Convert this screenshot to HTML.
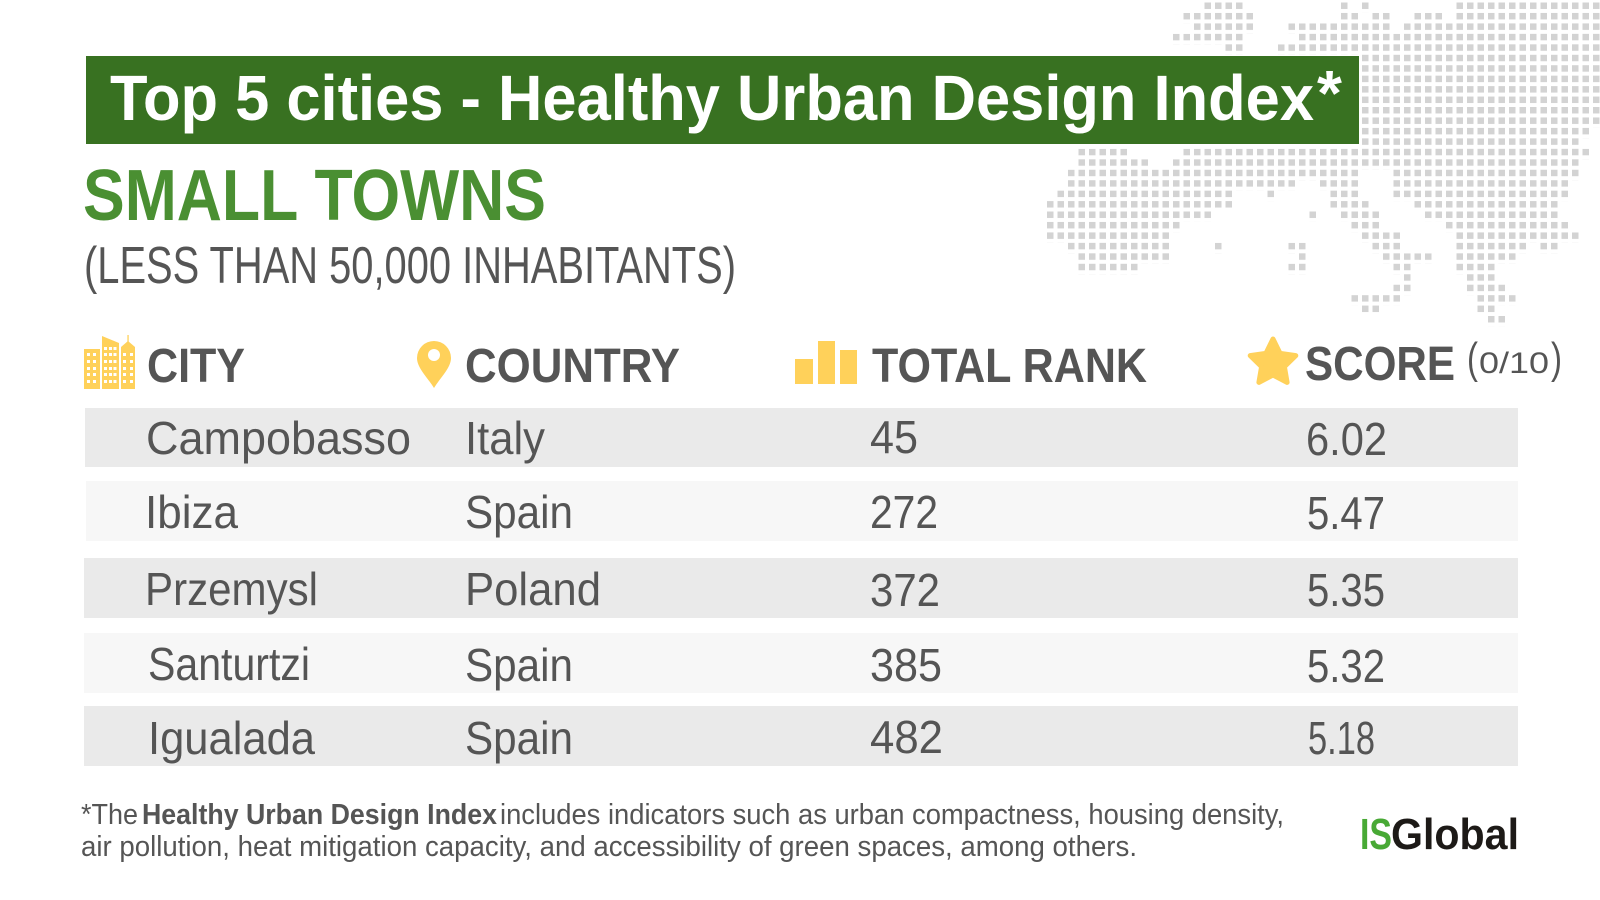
<!DOCTYPE html>
<html>
<head>
<meta charset="utf-8">
<style>
html,body{margin:0;padding:0;background:#fff;}
svg{display:block;}
text{font-family:"Liberation Sans",Arial,sans-serif;}
</style>
</head>
<body>
<svg width="1600" height="900" viewBox="0 0 1600 900" xmlns="http://www.w3.org/2000/svg">
<defs>
<pattern id="d" patternUnits="userSpaceOnUse" x="1005" y="2.5" width="10.5" height="10.45">
<rect x="0" y="0" width="6.5" height="6.5" fill="#d3d3d3"/>
</pattern>
</defs>
<rect width="1600" height="900" fill="#fff"/>

<!-- dotted map -->
<g fill="url(#d)">
<rect x="1204.5" y="2.5" width="42" height="10.45"/>
<rect x="1341" y="2.5" width="10.5" height="10.45"/>
<rect x="1362" y="2.5" width="10.5" height="10.45"/>
<rect x="1456.5" y="2.5" width="147" height="10.45"/>
<rect x="1183.5" y="12.95" width="73.5" height="10.45"/>
<rect x="1341" y="12.95" width="21" height="10.45"/>
<rect x="1372.5" y="12.95" width="21" height="10.45"/>
<rect x="1414.5" y="12.95" width="31.5" height="10.45"/>
<rect x="1456.5" y="12.95" width="147" height="10.45"/>
<rect x="1194" y="23.4" width="63" height="10.45"/>
<rect x="1288.5" y="23.4" width="105" height="10.45"/>
<rect x="1404" y="23.4" width="199.5" height="10.45"/>
<rect x="1173" y="33.85" width="73.5" height="10.45"/>
<rect x="1299" y="33.85" width="304.5" height="10.45"/>
<rect x="1225.5" y="44.3" width="21" height="10.45"/>
<rect x="1278" y="44.3" width="325.5" height="10.45"/>
<rect x="1362" y="54.75" width="241.5" height="73.15"/>
<rect x="1362" y="127.9" width="231" height="10.45"/>
<rect x="1362" y="138.35" width="220.5" height="10.45"/>
<rect x="1078.5" y="148.8" width="52.5" height="10.45"/>
<rect x="1183.5" y="148.8" width="409.5" height="10.45"/>
<rect x="1078.5" y="159.25" width="73.5" height="10.45"/>
<rect x="1173" y="159.25" width="409.5" height="10.45"/>
<rect x="1068" y="169.7" width="294" height="10.45"/>
<rect x="1393.5" y="169.7" width="189" height="10.45"/>
<rect x="1068" y="180.15" width="231" height="10.45"/>
<rect x="1320" y="180.15" width="42" height="10.45"/>
<rect x="1393.5" y="180.15" width="178.5" height="10.45"/>
<rect x="1057.5" y="190.6" width="178.5" height="10.45"/>
<rect x="1267.5" y="190.6" width="10.5" height="10.45"/>
<rect x="1330.5" y="190.6" width="31.5" height="10.45"/>
<rect x="1393.5" y="190.6" width="178.5" height="10.45"/>
<rect x="1047" y="201.05" width="189" height="10.45"/>
<rect x="1330.5" y="201.05" width="42" height="10.45"/>
<rect x="1414.5" y="201.05" width="147" height="10.45"/>
<rect x="1047" y="211.5" width="168" height="10.45"/>
<rect x="1309.5" y="211.5" width="10.5" height="10.45"/>
<rect x="1341" y="211.5" width="42" height="10.45"/>
<rect x="1425" y="211.5" width="136.5" height="10.45"/>
<rect x="1047" y="221.95" width="136.5" height="10.45"/>
<rect x="1351.5" y="221.95" width="31.5" height="10.45"/>
<rect x="1446" y="221.95" width="126" height="10.45"/>
<rect x="1047" y="232.4" width="126" height="10.45"/>
<rect x="1362" y="232.4" width="42" height="10.45"/>
<rect x="1456.5" y="232.4" width="126" height="10.45"/>
<rect x="1068" y="242.85" width="105" height="10.45"/>
<rect x="1215" y="242.85" width="10.5" height="10.45"/>
<rect x="1288.5" y="242.85" width="21" height="10.45"/>
<rect x="1372.5" y="242.85" width="31.5" height="10.45"/>
<rect x="1456.5" y="242.85" width="73.5" height="10.45"/>
<rect x="1540.5" y="242.85" width="21" height="10.45"/>
<rect x="1078.5" y="253.3" width="94.5" height="10.45"/>
<rect x="1299" y="253.3" width="10.5" height="10.45"/>
<rect x="1383" y="253.3" width="52.5" height="10.45"/>
<rect x="1456.5" y="253.3" width="63" height="10.45"/>
<rect x="1078.5" y="263.75" width="63" height="10.45"/>
<rect x="1288.5" y="263.75" width="21" height="10.45"/>
<rect x="1393.5" y="263.75" width="21" height="10.45"/>
<rect x="1456.5" y="263.75" width="42" height="10.45"/>
<rect x="1404" y="274.2" width="10.5" height="10.45"/>
<rect x="1467" y="274.2" width="31.5" height="10.45"/>
<rect x="1393.5" y="284.65" width="21" height="10.45"/>
<rect x="1467" y="284.65" width="42" height="10.45"/>
<rect x="1351.5" y="295.1" width="52.5" height="10.45"/>
<rect x="1477.5" y="295.1" width="42" height="10.45"/>
<rect x="1362" y="305.55" width="21" height="10.45"/>
<rect x="1477.5" y="305.55" width="21" height="10.45"/>
<rect x="1488" y="316" width="21" height="10.45"/>
</g>

<!-- title banner -->
<rect x="86" y="56" width="1273" height="88" fill="#387121"/>
<text x="110" y="120" font-size="64" font-weight="bold" fill="#ffffff" textLength="1204" lengthAdjust="spacingAndGlyphs">Top 5 cities - Healthy Urban Design Index</text>
<text x="1317" y="115" font-size="64" font-weight="bold" fill="#ffffff">*</text>

<!-- subtitle -->
<text x="83" y="220" font-size="72" font-weight="bold" fill="#4a8f32" textLength="463" lengthAdjust="spacingAndGlyphs">SMALL TOWNS</text>
<text x="84" y="283" font-size="52" fill="#555555" textLength="652" lengthAdjust="spacingAndGlyphs">(LESS THAN 50,000 INHABITANTS)</text>

<!-- header icons -->
<g fill="#ffd15a">
  <rect x="84" y="349" width="16" height="40"/>
  <polygon points="102,336 119,343 119,389 102,389"/>
  <polygon points="121,347 128,341 135,347 135,389 121,389"/>
  <rect x="127.4" y="335" width="1.3" height="7"/>
</g>
<g fill="#ffffff">
  <rect x="87" y="353" width="3" height="3"/><rect x="93" y="353" width="3" height="3"/>
  <rect x="87" y="360" width="3" height="3"/><rect x="93" y="360" width="3" height="3"/>
  <rect x="87" y="367" width="3" height="3"/><rect x="93" y="367" width="3" height="3"/>
  <rect x="87" y="373" width="3" height="3"/><rect x="93" y="373" width="3" height="3"/>
  <rect x="87" y="380" width="3" height="3"/><rect x="93" y="380" width="3" height="3"/>
  <rect x="104" y="347" width="3" height="3"/><rect x="109" y="347" width="3" height="3"/><rect x="113.5" y="347" width="3" height="3"/>
  <rect x="104" y="353" width="3" height="3"/><rect x="109" y="353" width="3" height="3"/><rect x="113.5" y="353" width="3" height="3"/>
  <rect x="104" y="360" width="3" height="3"/><rect x="109" y="360" width="3" height="3"/><rect x="113.5" y="360" width="3" height="3"/>
  <rect x="104" y="367" width="3" height="3"/><rect x="109" y="367" width="3" height="3"/><rect x="113.5" y="367" width="3" height="3"/>
  <rect x="104" y="373" width="3" height="3"/><rect x="109" y="373" width="3" height="3"/><rect x="113.5" y="373" width="3" height="3"/>
  <rect x="104" y="380" width="3" height="3"/><rect x="109" y="380" width="3" height="3"/><rect x="113.5" y="380" width="3" height="3"/>
  <rect x="123" y="353" width="3" height="3"/><rect x="130" y="353" width="3" height="3"/>
  <rect x="123" y="360" width="3" height="3"/><rect x="130" y="360" width="3" height="3"/>
  <rect x="123" y="367" width="3" height="3"/><rect x="130" y="367" width="3" height="3"/>
  <rect x="123" y="373" width="3" height="3"/><rect x="130" y="373" width="3" height="3"/>
  <rect x="123" y="380" width="3" height="3"/><rect x="130" y="380" width="3" height="3"/>
</g>
<!-- pin -->
<path d="M434,388 C428,378 417,368 417,358 A17,17 0 1 1 451,358 C451,368 440,378 434,388 Z" fill="#ffd15a"/>
<circle cx="434" cy="355" r="6" fill="#ffffff"/>
<!-- bars -->
<g fill="#ffd15a">
  <rect x="795" y="359" width="18" height="25"/>
  <rect x="818" y="341" width="17" height="43"/>
  <rect x="840" y="350" width="17" height="34"/>
</g>
<!-- star -->
<polygon points="1273,339 1280.05,353.3 1295.8,355.6 1284.4,366.7 1287.1,382.4 1273,375 1258.9,382.4 1261.6,366.7 1250.2,355.6 1265.95,353.3" fill="#ffd15a" stroke="#ffd15a" stroke-width="5" stroke-linejoin="round"/>

<!-- headers -->
<g font-weight="bold" font-size="48" fill="#555555">
  <text x="147" y="382" textLength="98" lengthAdjust="spacingAndGlyphs">CITY</text>
  <text x="465" y="382" textLength="215" lengthAdjust="spacingAndGlyphs">COUNTRY</text>
  <text x="872" y="382" textLength="275" lengthAdjust="spacingAndGlyphs">TOTAL RANK</text>
  <text x="1305" y="380" textLength="150" lengthAdjust="spacingAndGlyphs">SCORE</text>
</g>
<g fill="#555555">
  <text x="1467" y="373" font-size="44" textLength="11" lengthAdjust="spacingAndGlyphs">(</text>
  <text x="1479" y="373" font-size="30" textLength="70" lengthAdjust="spacingAndGlyphs">0/10</text>
  <text x="1551" y="373" font-size="44" textLength="11" lengthAdjust="spacingAndGlyphs">)</text>
</g>

<!-- rows -->
<rect x="85" y="408" width="1433" height="59" fill="#eaeaea"/>
<rect x="86" y="481" width="1432" height="60" fill="#f7f7f7"/>
<rect x="84" y="558" width="1434" height="60" fill="#eaeaea"/>
<rect x="84" y="633" width="1434" height="60" fill="#f7f7f7"/>
<rect x="84" y="706" width="1434" height="60" fill="#eaeaea"/>

<g font-size="46" fill="#555555">
  <text x="146" y="454" textLength="265" lengthAdjust="spacingAndGlyphs">Campobasso</text>
  <text x="465" y="454" textLength="80" lengthAdjust="spacingAndGlyphs">Italy</text>
  <text x="870" y="453" textLength="48" lengthAdjust="spacingAndGlyphs">45</text>
  <text x="1306" y="455" textLength="81" lengthAdjust="spacingAndGlyphs">6.02</text>

  <text x="145" y="528" textLength="93" lengthAdjust="spacingAndGlyphs">Ibiza</text>
  <text x="465" y="528" textLength="108" lengthAdjust="spacingAndGlyphs">Spain</text>
  <text x="870" y="528" textLength="68" lengthAdjust="spacingAndGlyphs">272</text>
  <text x="1307" y="529" textLength="78" lengthAdjust="spacingAndGlyphs">5.47</text>

  <text x="145" y="605" textLength="173" lengthAdjust="spacingAndGlyphs">Przemysl</text>
  <text x="465" y="605" textLength="136" lengthAdjust="spacingAndGlyphs">Poland</text>
  <text x="870" y="606" textLength="70" lengthAdjust="spacingAndGlyphs">372</text>
  <text x="1307" y="606" textLength="78" lengthAdjust="spacingAndGlyphs">5.35</text>

  <text x="148" y="680" textLength="162" lengthAdjust="spacingAndGlyphs">Santurtzi</text>
  <text x="465" y="681" textLength="108" lengthAdjust="spacingAndGlyphs">Spain</text>
  <text x="870" y="681" textLength="72" lengthAdjust="spacingAndGlyphs">385</text>
  <text x="1307" y="682" textLength="78" lengthAdjust="spacingAndGlyphs">5.32</text>

  <text x="148" y="754" textLength="167" lengthAdjust="spacingAndGlyphs">Igualada</text>
  <text x="465" y="754" textLength="108" lengthAdjust="spacingAndGlyphs">Spain</text>
  <text x="870" y="753" textLength="73" lengthAdjust="spacingAndGlyphs">482</text>
  <text x="1308" y="754" textLength="67" lengthAdjust="spacingAndGlyphs">5.18</text>
</g>

<!-- footer -->
<g font-size="29" fill="#555555">
  <text x="81" y="824" textLength="57" lengthAdjust="spacingAndGlyphs">*The</text>
  <text x="142" y="824" font-weight="bold" textLength="355" lengthAdjust="spacingAndGlyphs">Healthy Urban Design Index</text>
  <text x="500" y="824" textLength="784" lengthAdjust="spacingAndGlyphs">includes indicators such as urban compactness, housing density,</text>
  <text x="81" y="856" textLength="1056" lengthAdjust="spacingAndGlyphs">air pollution, heat mitigation capacity, and accessibility of green spaces, among others.</text>
</g>

<!-- logo -->
<text x="1360" y="849" font-size="44" font-weight="bold" fill="#48a935" textLength="32" lengthAdjust="spacingAndGlyphs">IS</text>
<text x="1391" y="849" font-size="44" font-weight="bold" fill="#1d1a17" textLength="128" lengthAdjust="spacingAndGlyphs">Global</text>
</svg>
</body>
</html>
